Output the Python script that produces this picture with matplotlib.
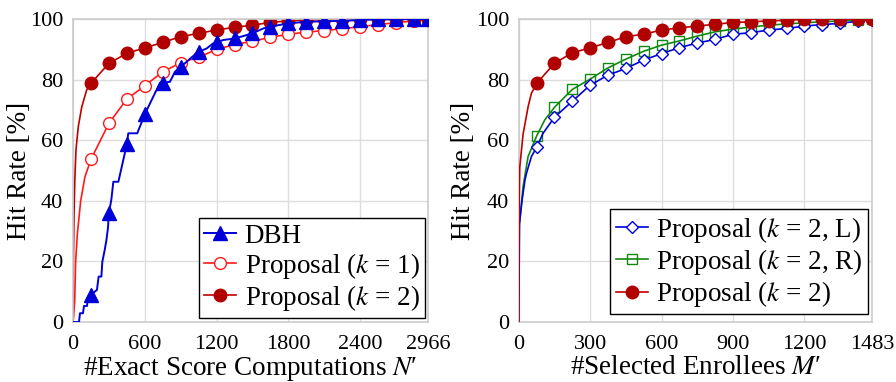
import matplotlib
matplotlib.use('Agg')
import matplotlib.pyplot as plt

plt.rcParams['font.family'] = ['Liberation Serif', 'DejaVu Serif']
plt.rcParams['mathtext.fontset'] = 'stix'

# left panel: hit rate vs exact score computations
marks_left = [150, 300, 450, 600, 750, 900, 1050, 1200, 1350, 1500, 1650, 1800,
              1950, 2100, 2250, 2400, 2550, 2700, 2850, 2966]
dbh_x = [0, 50, 58, 83, 92, 117, 125, 150, 200, 214, 237, 245, 265, 279, 292, 300,
         320, 337, 379, 450, 462, 537, 600, 727, 750, 810, 852, 900, 950, 992, 1050,
         1117, 1172, 1200, 1256, 1350, 1423, 1500, 1590, 1650, 1800, 1950, 2100,
         2250, 2400, 2550, 2700, 2850, 2966]
dbh_y = [0, 0, 2.9, 2.9, 5.3, 5.3, 8.4, 9.0, 10.6, 15, 15, 19.9, 23.8, 27, 31, 36,
         40.3, 46.3, 46.3, 58.7, 62.3, 62.3, 68.6, 79, 79, 79.3, 82.6, 84.3, 85.9,
         87.4, 89.2, 90.3, 92, 92.3, 93.1, 93.6, 94.4, 95.3, 96.9, 97.5, 98.6, 99.1,
         99.3, 99.4, 99.7, 99.9, 99.9, 100, 100]
k1_x = [0, 5, 14, 22, 36, 64, 100, 150, 300, 450, 600, 750, 900, 1050, 1200, 1350,
        1500, 1650, 1800, 1950, 2100, 2250, 2400, 2550, 2700, 2850, 2966]
k1_y = [0, 2, 7, 20, 29, 40, 48, 53.7, 65.6, 73.6, 78, 82.6, 85.6, 87.4, 90.0, 91.6,
        92.7, 94, 95, 95.7, 96.2, 96.8, 97.5, 98.2, 98.8, 99.4, 99.9]
k2l_x = [0, 3, 8, 15, 25, 44, 73, 114, 150, 300, 450, 600, 750, 900, 1050, 1200,
         1350, 1500, 1650, 1800, 1950, 2100, 2250, 2400, 2550, 2700, 2850, 2966]
k2l_y = [0, 20, 35, 47, 57, 64.5, 71, 76.6, 78.8, 85.4, 88.7, 90.5, 92.3, 94.2, 95.3,
         96.4, 97.3, 98.0, 98.9, 99.4, 99.7, 99.9, 100, 100, 100, 100, 100, 100]

# right panel: hit rate vs selected enrollees
marks_right = [75, 150, 225, 300, 375, 450, 525, 600, 675, 750, 825, 900, 975,
               1050, 1125, 1200, 1275, 1350, 1425, 1483]
L_x = [0, 3, 14, 26, 32, 53, 75, 102, 150, 225, 300, 375, 450, 525, 600, 675, 750,
       825, 900, 975, 1050, 1125, 1200, 1275, 1350, 1425, 1483]
L_y = [0, 32.6, 40.3, 46.9, 49, 54.6, 57.7, 62.3, 67.6, 72.9, 78.2, 81.5, 83.7, 86.5,
       88.6, 90.6, 92.1, 93.3, 95, 95.5, 96.4, 96.9, 97.7, 98.2, 98.6, 99.3, 99.8]
R_x = [0, 2, 18, 39, 75, 109, 150, 225, 300, 375, 450, 525, 600, 675, 750, 825, 900,
       975, 1050, 1125, 1200, 1275, 1350, 1425, 1483]
R_y = [0, 32, 44.7, 54.6, 61.4, 66.7, 70.9, 76.8, 80.2, 83.9, 86.8, 89.4, 91.4, 92.8,
       94.4, 95.8, 96.7, 97.4, 98.0, 98.4, 98.8, 99.1, 99.4, 99.7, 100]
k2r_x = [0, 1, 4, 18, 39, 53, 75, 150, 225, 300, 375, 450, 525, 600, 675, 750, 825,
         900, 975, 1050, 1125, 1200, 1275, 1350, 1425, 1483]
k2r_y = [0, 35, 51, 62, 71, 75.5, 78.8, 85.4, 88.9, 90.5, 92.3, 94.2, 95.0, 96.4, 97.1,
         97.7, 98.3, 98.9, 99.1, 99.4, 99.6, 99.9, 100, 100, 100, 100]

BLUE = '#0000d8'
RED = '#ff1a1a'
DRED = '#c00000'
GREEN = '#118811'


def every(xs, marks):
    return [i for i, v in enumerate(xs) if v in marks]


fig = plt.figure(figsize=(8.96, 3.82), dpi=100)
ax1 = fig.add_axes([0.0815, 0.157, 0.396, 0.793])
ax2 = fig.add_axes([0.579, 0.157, 0.394, 0.793])

ax1.plot(dbh_x, dbh_y, color=BLUE, lw=1.4, marker='^', ms=9.5,
         markevery=every(dbh_x, marks_left), label='DBH', zorder=3)
ax1.plot(k1_x, k1_y, color=RED, lw=1.2, marker='o', ms=8.5, mfc='white', mec=RED,
         mew=1.0, markevery=every(k1_x, marks_left), label=r'Proposal ($k$ = 1)', zorder=2)
ax1.plot(k2l_x, k2l_y, color=DRED, lw=1.2, marker='o', ms=9, mfc='#b00000', mec='#b00000',
         markevery=every(k2l_x, marks_left), label=r'Proposal ($k$ = 2)', zorder=2)

ax2.plot(L_x, L_y, color=BLUE, lw=1.2, marker='D', ms=6.5, mfc='white', mec=BLUE,
         mew=1.0, markevery=every(L_x, marks_right), label=r'Proposal ($k$ = 2, L)', zorder=3)
ax2.plot(R_x, R_y, color=GREEN, lw=1.2, marker='s', ms=7.5, mfc='none', mec=GREEN,
         mew=1.0, markevery=every(R_x, marks_right), label=r'Proposal ($k$ = 2, R)', zorder=2)
ax2.plot(k2r_x, k2r_y, color=DRED, lw=1.2, marker='o', ms=9, mfc='#b00000', mec='#b00000',
         markevery=every(k2r_x, marks_right), label=r'Proposal ($k$ = 2)', zorder=4)

for ax, xmax, ticks in [(ax1, 2966, [0, 600, 1200, 1800, 2400, 2966]),
                        (ax2, 1483, [0, 300, 600, 900, 1200, 1483])]:
    ax.set_xlim(0, xmax)
    ax.set_ylim(0, 100)
    ax.set_xticks(ticks)
    ax.set_yticks([0, 20, 40, 60, 80, 100])
    ax.grid(True, color='#dddddd', lw=1.0)
    ax.set_axisbelow(True)
    for s in ax.spines.values():
        s.set_color('#cccccc')
        s.set_linewidth(1.2)
    ax.tick_params(length=0, labelsize=16, colors='black')
    ax.tick_params(axis='x', pad=9)
    ax.tick_params(axis='y', pad=7)
    ax.set_ylabel('Hit Rate [%]', fontsize=19.5)

ax1.yaxis.set_label_coords(-0.117, 0.5)
ax2.yaxis.set_label_coords(-0.12, 0.5)

ax1.set_xlabel("#Exact Score Computations $N$\u2032", fontsize=19.5, labelpad=1)
ax2.set_xlabel("#Selected Enrollees $M$\u2032", fontsize=19.5, labelpad=1)

for ax, anchor in [(ax1, (0.992, 0.012)), (ax2, (0.99, 0.025))]:
    leg = ax.legend(loc='lower right', bbox_to_anchor=anchor, fontsize=19.5, frameon=True,
                    fancybox=False, framealpha=1, edgecolor='black', borderpad=0.2,
                    labelspacing=0.08, handlelength=1.2, handletextpad=0.3,
                    borderaxespad=0)
    leg.get_frame().set_linewidth(1.0)

fig.savefig('out.png', dpi=100)
